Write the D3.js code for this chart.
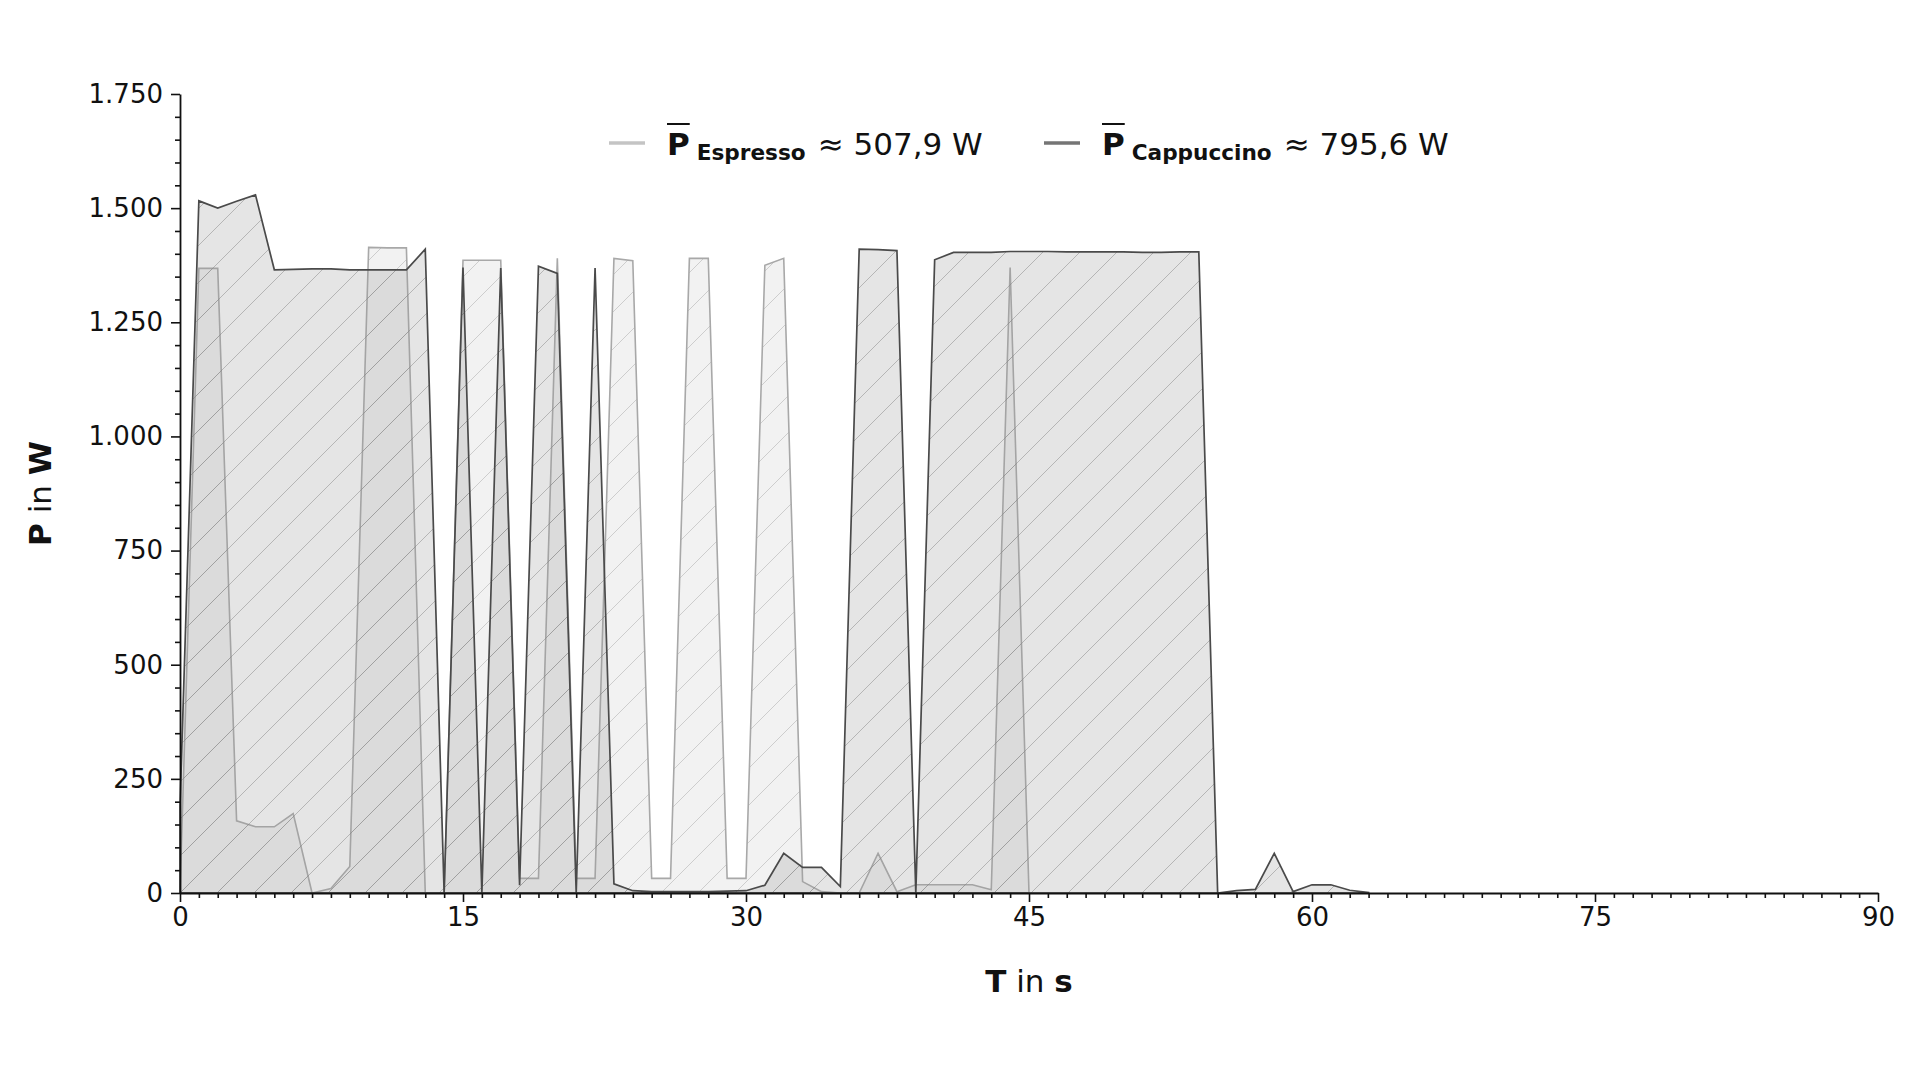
<!DOCTYPE html>
<html><head><meta charset="utf-8">
<script src="https://cdn.jsdelivr.net/npm/d3@7"></script>
<style>
body{margin:0;background:#fff}
svg{display:block}
text{font-family:"DejaVu Sans",sans-serif;fill:#111}
</style>
</head><body>
<svg id="chart" width="1920" height="1080"></svg>
<script>
// ---- data (1 sample per second) ----
const timeEspresso = [0,1,2,3,4,5,6,7,8,9,10,11,12,13,14,15,16,17,18,19,20,21,22,23,24,25,26,27,28,29,30,31,32,33,34,35,36,37,38,39,40,41,42,43,44,45];
const powerEspresso = [0,1368,1368,158,145,145,174,0,10,58,1414,1413,1413,0,0,1386,1386,1386,32,32,1390,32,32,1390,1385,32,32,1390,1390,32,32,1375,1390,25,3,0,0,87,3,18,18,18,18,7,1370,0];
const timeCappuccino = [0,1,2,3,4,5,6,7,8,9,10,11,12,13,14,15,16,17,18,19,20,21,22,23,24,25,26,27,28,29,30,31,32,33,34,35,36,37,38,39,40,41,42,43,44,45,46,47,48,49,50,51,52,53,54,55,56,57,58,59,60,61,62,63];
const powerCappuccino = [190,1516,1500,1515,1529,1365,1366,1367,1367,1365,1365,1365,1365,1410,0,1370,0,1369,17,1373,1357,0,1369,20,5,3,3,3,3,4,5,17,87,56,56,14,1410,1409,1407,0,1387,1403,1403,1403,1405,1405,1405,1404,1404,1404,1404,1403,1403,1404,1404,0,5,8,87,3,18,18,6,1];
const xTicks = [0,15,30,45,60,75,90];
const yTicks = [0,250,500,750,1000,1250,1500,1750];
const legendLabels = ["Espresso","Cappuccino"];
const legendMeans = ["507,9","795,6"];

// ---- layout ----
const svg = d3.select("#chart");
const X0 = 180, X1 = 1878, Y0 = 893, Y1 = 94;
const x = d3.scaleLinear().domain([0,90]).range([X0,X1]);
const y = d3.scaleLinear().domain([0,1750]).range([Y0,Y1]);
const de = d3.formatLocale({decimal:",",thousands:".",grouping:[3],currency:["","€"]});
const fmt = de.format(",d");

const defs = svg.append("defs");
const S = 37;
function hatch(id,color,op){
  const p = defs.append("pattern").attr("id",id).attr("patternUnits","userSpaceOnUse")
    .attr("x",X0).attr("y",Y0).attr("width",S).attr("height",S);
  p.append("path")
    .attr("d",`M0,${S} L${S},0 M${-S/2},${S/2} L${S/2},${-S/2} M${S/2},${S*1.5} L${S*1.5},${S/2}`)
    .attr("stroke",color).attr("stroke-opacity",op).attr("stroke-width",1).attr("fill","none");
}
hatch("hE","#a0a0a0",0.45);
hatch("hC","#7a7a7a",0.45);

const series = [
  {t:timeEspresso, p:powerEspresso, fill:"rgb(178,178,178)", fo:0.17, hatch:"url(#hE)", stroke:"#a8a8a8", sw:1.6},
  {t:timeCappuccino, p:powerCappuccino, fill:"rgb(150,150,150)", fo:0.25, hatch:"url(#hC)", stroke:"#4a4a4a", sw:1.7}
];
const plot = svg.append("g");
series.forEach(s=>{
  const idx = d3.range(s.t.length);
  const area = d3.area().x(i=>x(s.t[i])).y0(y(0)).y1(i=>y(s.p[i]));
  const d = area(idx);
  plot.append("path").attr("d",d).attr("fill",s.fill).attr("fill-opacity",s.fo);
  plot.append("path").attr("d",d).attr("fill",s.hatch);
  plot.append("path").attr("d",d).attr("fill","none").attr("stroke",s.stroke).attr("stroke-width",s.sw).attr("stroke-linejoin","miter");
});

// ---- axes ----
const xMinor = d3.range(0,91,1).filter(v=>!xTicks.includes(v));
const yMinor = d3.range(0,1751,50).filter(v=>!yTicks.includes(v));
const gx = svg.append("g").attr("transform",`translate(0,${Y0})`);
gx.call(d3.axisBottom(x).tickValues(xTicks).tickFormat(d3.format("d")).tickSize(9).tickSizeOuter(0).tickPadding(6));
const gxm = svg.append("g").attr("transform",`translate(0,${Y0})`);
gxm.call(d3.axisBottom(x).tickValues(xMinor).tickFormat("").tickSize(5).tickSizeOuter(0));
gxm.select(".domain").remove();
const gy = svg.append("g").attr("transform",`translate(${X0},0)`);
gy.call(d3.axisLeft(y).tickValues(yTicks).tickFormat(fmt).tickSize(9).tickSizeOuter(0).tickPadding(8));
const gym = svg.append("g").attr("transform",`translate(${X0},0)`);
gym.call(d3.axisLeft(y).tickValues(yMinor).tickFormat("").tickSize(5).tickSizeOuter(0));
gym.select(".domain").remove();
[gx,gy,gxm,gym].forEach(g=>{
  g.selectAll("line").attr("stroke","#111").attr("stroke-width",1.6);
  g.selectAll(".domain").attr("stroke","#111").attr("stroke-width",1.8);
  g.selectAll("text").attr("font-size",26).attr("font-family","DejaVu Sans").attr("fill","#111");
});

// ---- axis labels ----
const xl = svg.append("text").attr("x",(X0+X1)/2).attr("y",992).attr("text-anchor","middle").attr("font-size",31);
xl.append("tspan").attr("font-weight","bold").text("T");
xl.append("tspan").text(" in ");
xl.append("tspan").attr("font-weight","bold").text("s");
const yl = svg.append("text").attr("transform",`translate(51,${(Y0+Y1)/2}) rotate(-90)`).attr("text-anchor","middle").attr("font-size",31);
yl.append("tspan").attr("font-weight","bold").text("P");
yl.append("tspan").text(" in ");
yl.append("tspan").attr("font-weight","bold").text("W");

// ---- legend ----
const legendX = [609,1044];
const legendColors = ["#c4c4c4","#757575"];
legendLabels.forEach((lab,i)=>{
  const g = svg.append("g").attr("transform",`translate(${legendX[i]},0)`);
  g.append("line").attr("x1",0).attr("x2",36).attr("y1",143).attr("y2",143)
    .attr("stroke",legendColors[i]).attr("stroke-width",3.5);
  const P = g.append("text").attr("x",58).attr("y",155).attr("font-size",31).attr("font-weight","bold").text("P");
  const wP = P.node().getComputedTextLength();
  g.append("line").attr("x1",58).attr("x2",58+wP).attr("y1",124).attr("y2",124).attr("stroke","#111").attr("stroke-width",2);
  const sub = g.append("text").attr("x",58+wP+7).attr("y",160).attr("font-size",21.6).attr("font-weight","bold").text(lab);
  const wS = sub.node().getComputedTextLength();
  g.append("text").attr("x",58+wP+7+wS+12).attr("y",155).attr("font-size",31).text(`≈ ${legendMeans[i]} W`);
});
</script>
</body></html>
